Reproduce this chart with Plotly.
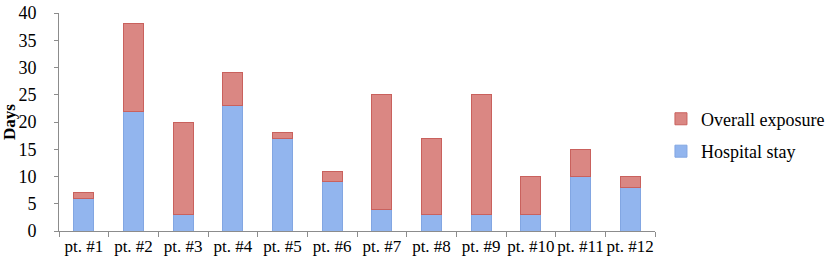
import plotly.graph_objects as go

categories = ["pt. #1", "pt. #2", "pt. #3", "pt. #4", "pt. #5", "pt. #6",
              "pt. #7", "pt. #8", "pt. #9", "pt. #10", "pt. #11", "pt. #12"]
hospital_stay = [6, 22, 3, 23, 17, 9, 4, 3, 3, 3, 10, 8]
overall_exposure = [1, 16, 17, 6, 1, 2, 21, 14, 22, 7, 5, 2]
y_ticks = [0, 5, 10, 15, 20, 25, 30, 35, 40]

font_family = "Liberation Serif, Times New Roman, serif"

fig = go.Figure()
fig.add_trace(go.Bar(
    x=categories, y=hospital_stay, name="Hospital stay",
    legendgroup="a", legendrank=2,
    marker=dict(color="#92b5ee", line=dict(color="#82a6e2", width=1)),
))
fig.add_trace(go.Bar(
    x=categories, y=overall_exposure, name="Overall exposure",
    legendgroup="b", legendrank=1,
    marker=dict(color="#da8783", line=dict(color="#c9615d", width=1)),
))

fig.update_layout(
    barmode="stack",
    bargap=0.6,
    width=829, height=271,
    margin=dict(l=59, r=174, t=13, b=40, autoexpand=False),
    paper_bgcolor="white", plot_bgcolor="white",
    font=dict(family=font_family, size=17, color="black"),
    showlegend=True,
    legend=dict(
        x=1.01, xanchor="left", y=0.44, yanchor="middle",
        traceorder="grouped", font=dict(size=18, family=font_family),
        itemwidth=30, tracegroupgap=6,
    ),
)
fig.update_xaxes(
    automargin=False,
    showline=True, linecolor="#8c8c8c", linewidth=1,
    ticks="outside", tickson="boundaries", ticklen=5, tickcolor="#8c8c8c",
    tickfont=dict(size=17, family=font_family), tickangle=0,
    showgrid=False,
)
fig.update_yaxes(
    automargin=False,
    range=[0, 40], tickvals=y_ticks,
    showline=True, linecolor="#8c8c8c", linewidth=1,
    ticks="outside", ticklen=4, tickcolor="#8c8c8c",
    tickfont=dict(size=18, family=font_family), ticklabelstandoff=14,
    showgrid=False, zeroline=False,
    title=dict(text="<b>Days</b>", font=dict(size=17, family=font_family), standoff=3),
)

fig.write_html("out.html", config={"displayModeBar": False},
               post_script="document.body.style.margin='0';")
